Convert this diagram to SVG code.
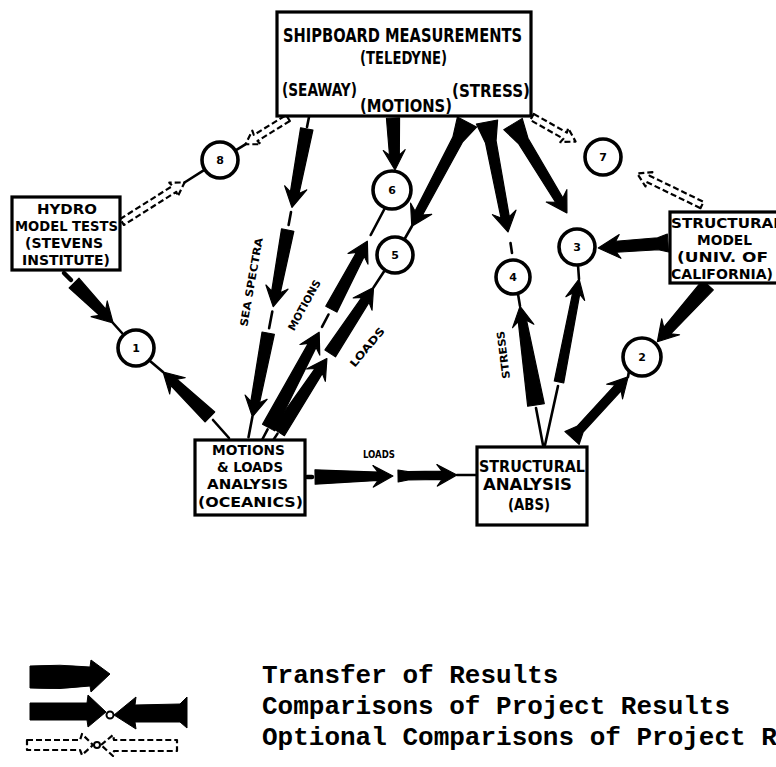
<svg xmlns="http://www.w3.org/2000/svg" width="776" height="767" viewBox="0 0 776 767">
<style>
.bg{fill:#fff}
.box{fill:#fff;stroke:#000;stroke-width:3.2}
.c{fill:#fff;stroke:#000;stroke-width:3.6}
.t{font-family:"DejaVu Sans Condensed","DejaVu Sans","Liberation Sans",sans-serif;font-weight:bold;fill:#000}
.n{font-family:"DejaVu Sans","Liberation Sans",sans-serif;font-weight:bold;font-size:11px;fill:#000;text-anchor:middle}
.lg{font-family:"Liberation Mono","DejaVu Sans Mono",monospace;font-weight:bold;font-size:26px;fill:#000}
.ar{fill:#000;stroke:#000;stroke-width:1;stroke-linejoin:round}
.th{stroke:#000;stroke-width:2.6;fill:none;stroke-linecap:round}
.dsh{stroke:#000;stroke-width:4.5;fill:none;stroke-linecap:round}
.opt{fill:#fff;stroke:#000;stroke-width:2.2;stroke-dasharray:6 3;stroke-linejoin:round}
</style>
<rect class="bg" x="0" y="0" width="776" height="767"/>

<g id="connectors">
  <!-- Hydro -> 1 -->
  <line class="dsh" x1="64" y1="273" x2="71" y2="280"/>
  <path class="ar" transform="translate(74,283) rotate(45.7) scale(1,1.25)" d="M0,-5.5 L41,-3.5 L36,-9 L56,0 L36,9 L41,3.5 L0,5.5Z"/>
  <line class="th" x1="113" y1="323" x2="122" y2="333"/>
  <!-- Motions box -> 1 -->
  <line class="th" x1="213" y1="420" x2="229" y2="438"/>
  <path class="ar" transform="translate(210,417) rotate(-136.2) scale(1,1.25)" d="M0,-5.5 L50,-3.5 L45,-9 L65,0 L45,9 L50,3.5 L0,5.5Z"/>
  <line class="th" x1="163" y1="372" x2="150" y2="361"/>
  <!-- Sea spectra -->
  <line class="th" x1="309" y1="117" x2="307" y2="127"/>
  <path class="ar" transform="translate(306.8,128.8) rotate(100.7) scale(1,1.25)" d="M0,-5 L65,-3.5 L60,-9 L80,0 L60,9 L65,3.5 L0,5Z"/>
  <line class="th" x1="291" y1="212" x2="288.6" y2="225"/>
  <path class="ar" transform="translate(287.7,230) rotate(100.7) scale(1,1.25)" d="M0,-5 L63,-3.5 L58,-9 L78,0 L58,9 L63,3.5 L0,5Z"/>
  <line class="th" x1="272.3" y1="311.6" x2="269.1" y2="328.3"/>
  <path class="ar" transform="translate(268.2,333.2) rotate(100.7) scale(1,1.25)" d="M0,-5 L70,-3.5 L65,-9 L85,0 L65,9 L70,3.5 L0,5Z"/>
  <line class="th" x1="252.4" y1="416.7" x2="248.5" y2="437.3"/>
  <!-- Motions -> 6 -->
  <line class="th" x1="262" y1="440" x2="267.6" y2="429.4"/>
  <path class="ar" transform="translate(268.6,427.6) rotate(-62.07) scale(1,1.25)" d="M0,-5.5 L93,-3.5 L88,-9 L108,0 L88,9 L93,3.5 L0,5.5Z"/>
  <line class="th" x1="322" y1="326.9" x2="328.5" y2="314.5"/>
  <path class="ar" transform="translate(331.3,309.2) rotate(-62.07) scale(1,1.25)" d="M0,-5 L62,-3.5 L57,-9 L77,0 L57,9 L62,3.5 L0,5Z"/>
  <line class="th" x1="370.7" y1="235" x2="384.7" y2="208.5"/>
  <!-- Loads -> 5 -->
  <line class="th" x1="272" y1="442" x2="277.5" y2="433.6"/>
  <path class="ar" transform="translate(278.6,432) rotate(-56.7) scale(1,1.25)" d="M0,-5.5 L73,-3.5 L68,-9 L88,0 L68,9 L73,3.5 L0,5.5Z"/>
  <path class="ar" transform="translate(330.2,353.4) rotate(-56.7) scale(1,1.25)" d="M0,-5 L64,-3.5 L59,-9 L79,0 L59,9 L64,3.5 L0,5Z"/>
  <line class="th" x1="373.6" y1="287.4" x2="384" y2="271.5"/>
  <!-- Stress -> 5 -->
  <path class="ar" transform="translate(467,122) rotate(117.9) scale(1,1.2)" d="M0,-9 L20,-4.5 L103,-3.5 L98,-10 L118,0 L98,10 L103,3.5 L20,4.5 L0,9Z"/>
  <line class="th" x1="412" y1="226" x2="404" y2="240"/>
  <!-- Stress -> 4 -->
  <path class="ar" transform="translate(487,122) rotate(79.2) scale(1,1.2)" d="M0,-9 L20,-4.5 L97,-3.5 L92,-10 L112,0 L92,10 L97,3.5 L20,4.5 L0,9Z"/>
  <line class="th" x1="510.5" y1="243" x2="512" y2="253"/>
  <!-- Stress -> 3 -->
  <path class="ar" transform="translate(513,124) rotate(58.75) scale(1,1.2)" d="M0,-9 L20,-4.5 L89,-3.5 L84,-10 L104,0 L84,10 L89,3.5 L20,4.5 L0,9Z"/>
  <!-- Structural model -> 3 -->
  <path class="ar" transform="translate(668,243) rotate(175.9)" d="M0,-9 L10,-6 L52,-5.5 L48,-12 L70,0 L48,12 L52,5.5 L10,6 L0,9Z"/>
  <!-- Structural model -> 2 -->
  <path class="ar" transform="translate(708,285) rotate(131.8) scale(1,1.2)" d="M0,-6 L61,-4 L56,-10 L76,0 L56,10 L61,4 L0,6Z"/>
  <!-- Structural analysis -> 2 -->
  <path class="ar" transform="translate(572,438) rotate(-47.45) scale(1,1.2)" d="M0,-8 L12,-3.5 L68,-3.5 L63,-9 L83,0 L63,9 L68,3.5 L12,3.5 L0,8Z"/>
  <line class="th" x1="628" y1="377" x2="629" y2="371"/>
  <!-- Structural analysis -> 4 -->
  <line class="th" x1="543" y1="445" x2="536" y2="408"/>
  <path class="ar" transform="translate(536,405) rotate(-99.2) scale(1,1.2)" d="M0,-7 L85,-3.5 L80,-9 L100,0 L80,9 L85,3.5 L0,7Z"/>
  <line class="th" x1="520" y1="306" x2="518" y2="294"/>
  <!-- Structural analysis -> 3 -->
  <line class="th" x1="545" y1="445" x2="558" y2="386"/>
  <path class="ar" transform="translate(559,382) rotate(-79) scale(1,1.2)" d="M0,-4 L90,-3 L85,-8 L105,0 L85,8 L90,3 L0,4Z"/>
  <line class="th" x1="579" y1="279" x2="578" y2="265"/>
  <!-- Loads horizontal -->
  <line class="dsh" x1="307" y1="477" x2="312" y2="477"/>
  <path class="ar" transform="translate(315,477) rotate(-0.7) scale(1,1.2)" d="M0,-6 L63,-3.5 L58,-9 L78,0 L58,9 L63,3.5 L0,6Z"/>
  <path class="ar" transform="translate(398,476) rotate(-1) scale(1,1.2)" d="M0,-5 L10,-3.5 L44,-3.5 L39,-9 L59,0 L39,9 L44,3.5 L10,3.5 L0,5Z"/>
  <line class="th" x1="457" y1="475" x2="477" y2="475"/>
  <!-- Motions (top) -> 6 -->
  <path class="ar" transform="translate(393,118) rotate(87.8) scale(1,1.1)" d="M0,-6 L37,-4.5 L32,-10 L52,0 L32,10 L37,4.5 L0,6Z"/>
  <!-- Optional: top -> 8 -->
  <path class="opt" transform="translate(288,118) rotate(148.3)" d="M0,-3.5 L38,-3.5 L37,-8 L50,0 L37,8 L38,3.5 L0,3.5Z"/>
  <line class="th" x1="245.4" y1="144.3" x2="235.2" y2="150.6"/>
  <!-- Optional: hydro -> 8 -->
  <path class="opt" transform="translate(122,222) rotate(-32.3)" d="M0,-3.5 L62,-3.5 L61,-8 L74,0 L61,8 L62,3.5 L0,3.5Z"/>
  <line class="th" x1="184.5" y1="182.5" x2="204.8" y2="169.7"/>
  <!-- Optional: top -> 7 -->
  <path class="opt" transform="translate(532,117) rotate(29.4)" d="M0,-3.5 L38,-3.5 L37,-8 L50,0 L37,8 L38,3.5 L0,3.5Z"/>
  <!-- Optional: structural model -> 7 -->
  <path class="opt" transform="translate(702,205) rotate(-154.1)" d="M0,-3.5 L60,-3.5 L59,-8 L72,0 L59,8 L60,3.5 L0,3.5Z"/>
</g>

<g id="connector-labels">
  <text class="t" font-size="10.5" transform="translate(251,282) rotate(-80)" text-anchor="middle" textLength="90" lengthAdjust="spacingAndGlyphs" dy="4">SEA SPECTRA</text>
  <text class="t" font-size="10.5" transform="translate(304,305) rotate(-61)" text-anchor="middle" textLength="56" lengthAdjust="spacingAndGlyphs" dy="4">MOTIONS</text>
  <text class="t" font-size="10.5" transform="translate(367,347) rotate(-50)" text-anchor="middle" textLength="48" lengthAdjust="spacingAndGlyphs" dy="4">LOADS</text>
  <text class="t" font-size="10.5" transform="translate(503,355) rotate(-97)" text-anchor="middle" textLength="48" lengthAdjust="spacingAndGlyphs" dy="4">STRESS</text>
  <text class="t" font-size="10" x="363" y="458" textLength="32" lengthAdjust="spacingAndGlyphs">LOADS</text>
</g>

<g id="shipboard">
  <rect class="box" x="277" y="12" width="254" height="104"/>
  <text class="t" font-size="20" x="283" y="42" textLength="239" lengthAdjust="spacingAndGlyphs">SHIPBOARD MEASUREMENTS</text>
  <text class="t" font-size="17" x="360" y="64" textLength="87" lengthAdjust="spacingAndGlyphs">(TELEDYNE)</text>
  <text class="t" font-size="18" x="282" y="96" textLength="75" lengthAdjust="spacingAndGlyphs">(SEAWAY)</text>
  <text class="t" font-size="17" x="360" y="112" textLength="92" lengthAdjust="spacingAndGlyphs">(MOTIONS)</text>
  <text class="t" font-size="18" x="452" y="97" textLength="78" lengthAdjust="spacingAndGlyphs">(STRESS)</text>
</g>

<g id="hydro">
  <rect class="box" x="12" y="197" width="108" height="73"/>
  <text class="t" font-size="14" x="37" y="214" textLength="60" lengthAdjust="spacingAndGlyphs">HYDRO</text>
  <text class="t" font-size="14" x="15" y="231" textLength="103" lengthAdjust="spacingAndGlyphs">MODEL TESTS</text>
  <text class="t" font-size="14" x="25" y="248" textLength="78" lengthAdjust="spacingAndGlyphs">(STEVENS</text>
  <text class="t" font-size="14" x="22" y="265" textLength="88" lengthAdjust="spacingAndGlyphs">INSTITUTE)</text>
</g>

<g id="motions-loads">
  <rect class="box" x="195" y="440" width="110" height="75"/>
  <text class="t" font-size="14" x="212" y="455" textLength="73" lengthAdjust="spacingAndGlyphs">MOTIONS</text>
  <text class="t" font-size="14" x="217" y="472" textLength="66" lengthAdjust="spacingAndGlyphs">&amp; LOADS</text>
  <text class="t" font-size="14" x="207" y="489" textLength="81" lengthAdjust="spacingAndGlyphs">ANALYSIS</text>
  <text class="t" font-size="14" x="198" y="507" textLength="105" lengthAdjust="spacingAndGlyphs">(OCEANICS)</text>
</g>

<g id="structural-analysis">
  <rect class="box" x="477" y="447" width="110" height="78"/>
  <text class="t" font-size="15.5" x="479" y="472" textLength="106" lengthAdjust="spacingAndGlyphs">STRUCTURAL</text>
  <text class="t" font-size="15.5" x="483" y="490" textLength="89" lengthAdjust="spacingAndGlyphs">ANALYSIS</text>
  <text class="t" font-size="15" x="508" y="510" textLength="42" lengthAdjust="spacingAndGlyphs">(ABS)</text>
</g>

<g id="structural-model">
  <rect class="box" x="670" y="212" width="120" height="71"/>
  <text class="t" font-size="14" x="671" y="228" textLength="112" lengthAdjust="spacingAndGlyphs">STRUCTURAL</text>
  <text class="t" font-size="14" x="697" y="245" textLength="55" lengthAdjust="spacingAndGlyphs">MODEL</text>
  <text class="t" font-size="14" x="677" y="262" textLength="91" lengthAdjust="spacingAndGlyphs">(UNIV. OF</text>
  <text class="t" font-size="14" x="671" y="279" textLength="102" lengthAdjust="spacingAndGlyphs">CALIFORNIA)</text>
</g>

<g id="c8"><circle class="c" cx="220" cy="160" r="18"/><text class="n" x="220" y="164">8</text></g>
<g id="c6"><circle class="c" cx="392" cy="190" r="19"/><text class="n" x="392" y="194">6</text></g>
<g id="c5"><circle class="c" cx="395" cy="255" r="18"/><text class="n" x="395" y="259">5</text></g>
<g id="c1"><circle class="c" cx="136" cy="348" r="18"/><text class="n" x="136" y="352">1</text></g>
<g id="c4"><circle class="c" cx="513" cy="277" r="17"/><text class="n" x="513" y="281">4</text></g>
<g id="c3"><circle class="c" cx="577" cy="247" r="18"/><text class="n" x="577" y="251">3</text></g>
<g id="c7"><circle class="c" cx="603" cy="157" r="18"/><text class="n" x="603" y="161">7</text></g>
<g id="c2"><circle class="c" cx="642" cy="357" r="19"/><text class="n" x="642" y="361">2</text></g>

<g id="legend">
  <path class="ar" d="M30,666 Q60,664 90,667 L91,660 L110,674 L91,692 L90,686 Q60,690 30,688 Z"/>
  <path class="ar" d="M30,703 L87,703 L88,695 L106,712 L88,727 L87,720 L30,720Z"/>
  <circle cx="110" cy="715" r="3.5" fill="#fff" stroke="#000" stroke-width="2"/>
  <path class="ar" d="M114,715 L136,697 L135,705 L180,704 L187,697 L187,728 L180,722 L135,722 L136,729Z"/>
  <path class="opt" d="M27,740 L80,740 L82,734 L93,745 L82,755 L80,750 L27,750Z"/>
  <circle cx="97" cy="745" r="3" fill="#fff" stroke="#000" stroke-width="2"/>
  <path class="opt" d="M101,745 L113,735 L114,740 L177,740 L177,751 L114,751 L113,756Z"/>
  <text class="lg" x="262" y="683">Transfer of Results</text>
  <text class="lg" x="262" y="714">Comparisons of Project Results</text>
  <text class="lg" x="262" y="745">Optional Comparisons of Project R</text>
</g>
</svg>
